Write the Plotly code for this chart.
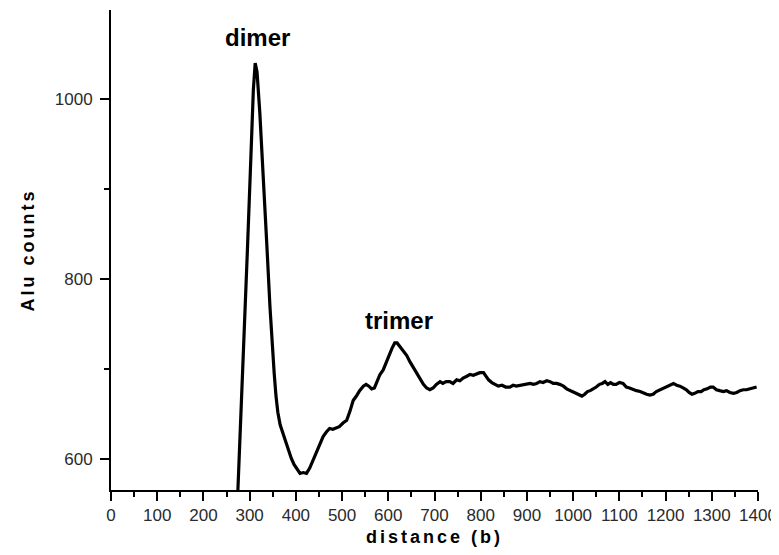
import plotly.graph_objects as go

# --- data ---
distance = [268, 275, 285, 295, 303, 308, 312, 316, 322, 330, 337, 344, 349, 353, 357, 361, 366, 372,
            378, 384, 390, 396, 402, 409, 416, 423, 430, 437, 444, 452, 459, 466, 473, 480, 487, 494,
            502, 510, 517, 524, 531, 538, 546, 552, 558, 564, 570, 576, 582, 589, 596, 602, 608, 614,
            619, 625, 632, 640, 647, 654, 661, 668, 676, 683, 690, 697, 704, 712, 718, 725, 733, 740,
            748, 755, 762, 770, 777, 784, 791, 798, 806, 812, 817, 824, 831, 838, 846, 854, 863, 870,
            877, 885, 892, 900, 907, 914, 921, 928, 935, 943, 950, 957, 964, 971, 979, 986, 994, 1001,
            1008, 1014, 1019, 1025, 1031, 1037, 1044, 1050, 1057, 1063, 1069, 1075, 1081, 1087, 1093,
            1100, 1108, 1115, 1122, 1130, 1137, 1145, 1152, 1159, 1166, 1173, 1180, 1188, 1195, 1202,
            1209, 1217, 1224, 1231, 1238, 1245, 1251, 1257, 1263, 1270, 1277, 1283, 1290, 1297, 1303,
            1310, 1317, 1325, 1332, 1339, 1347, 1354, 1361, 1368, 1375, 1382, 1390, 1397]
alu_counts = [480, 566, 700, 830, 940, 1010, 1040, 1030, 985, 915, 840, 769, 725, 696, 670, 652, 638, 628,
              618, 610, 601, 594, 589, 584, 585, 584, 590, 599, 608, 618, 625, 630, 634, 633, 635, 636,
              640, 643, 653, 665, 670, 676, 681, 683, 681, 678, 679, 686, 694, 699, 708, 716, 723, 729,
              729, 725, 720, 715, 708, 702, 695, 690, 683, 679, 677, 679, 683, 686, 684, 686, 686, 684,
              688, 687, 690, 692, 694, 693, 695, 696, 696, 692, 688, 685, 683, 681, 682, 680, 680, 682,
              681, 682, 682, 683, 684, 683, 684, 686, 685, 687, 686, 684, 684, 683, 681, 678, 676, 674,
              673, 671, 670, 672, 675, 676, 678, 680, 683, 684, 686, 683, 685, 683, 683,
              685, 684, 680, 679, 677, 676, 675, 673, 672, 671, 672, 675, 677, 679, 680,
              682, 684, 682, 681, 679, 677, 674, 672, 673, 675, 675, 677, 678, 680, 680,
              677, 676, 675, 676, 674, 673, 674, 676, 677, 677, 678, 679, 680]

peak_labels = ["dimer", "trimer"]
peak_x = [317, 624]
peak_y = [1069, 754]

x_title = "distance (b)"
y_title = "Alu counts"

FONT = "Liberation Sans, Arial, Helvetica, sans-serif"

fig = go.Figure()
fig.add_trace(go.Scatter(x=distance, y=alu_counts, mode="lines",
                         line=dict(color="black", width=3.2), showlegend=False,
                         cliponaxis=True))

for lab, xx, yy in zip(peak_labels, peak_x, peak_y):
    fig.add_annotation(x=xx, y=yy, text=lab, showarrow=False,
                       font=dict(family=FONT, size=24, color="black", weight="bold"),
                       xanchor="center", yanchor="middle")

# the page body adds an 8 px offset, so the figure is 8 px smaller than the window
fig.update_layout(
    width=771, height=547,
    margin=dict(l=103, r=21, t=2, b=65),
    paper_bgcolor="white", plot_bgcolor="white",
    font=dict(family=FONT, color="#222"),
    showlegend=False,
)
fig.update_xaxes(
    range=[0, 1400], tick0=0, dtick=100, automargin=False,
    showline=True, linecolor="black", linewidth=2,
    ticks="outside", ticklen=9, tickwidth=2, tickcolor="black",
    minor=dict(dtick=50, ticks="outside", ticklen=5, tickwidth=2, tickcolor="black"),
    showgrid=False, zeroline=False,
    tickfont=dict(family=FONT, size=17, color="#2a2a2a"),
    title=dict(text=x_title, font=dict(family=FONT, size=18, color="black", weight="bold"), standoff=6),
)
fig.update_yaxes(
    range=[565.6, 1099], tick0=0, dtick=200, automargin=False,
    showline=True, linecolor="black", linewidth=2,
    ticks="outside", ticklen=9, tickwidth=2, tickcolor="black",
    minor=dict(dtick=100, ticks="outside", ticklen=5, tickwidth=2, tickcolor="black"),
    showgrid=False, zeroline=False, ticklabelstandoff=4,
    tickfont=dict(family=FONT, size=17, color="#2a2a2a"),
    title=dict(text=y_title, font=dict(family=FONT, size=18, color="black", weight="bold"), standoff=15),
)

fig.write_html(
    "out.html",
    post_script="document.querySelectorAll('.xtitle, .ytitle').forEach(function(e){e.style.letterSpacing='3px';});",
)
